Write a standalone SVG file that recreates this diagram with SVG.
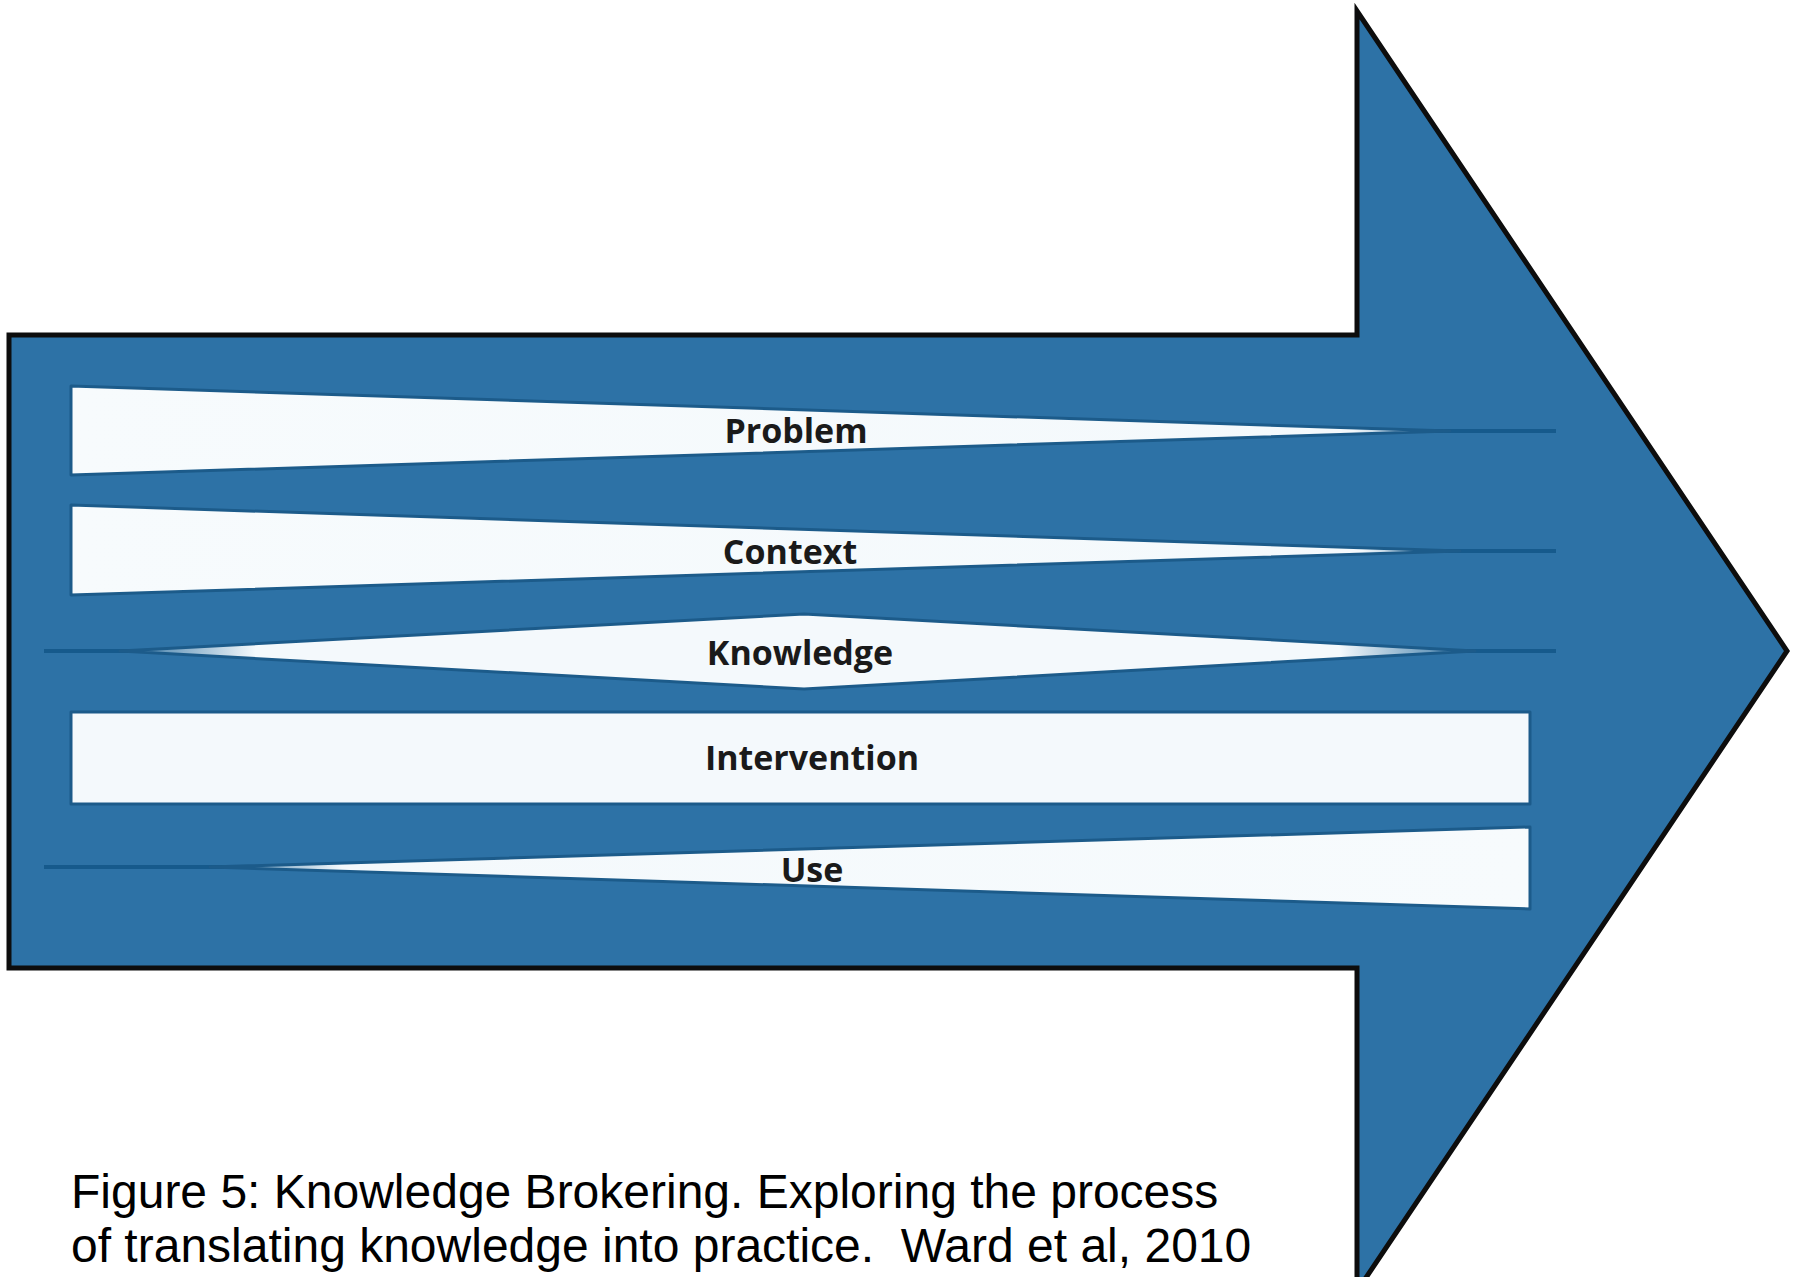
<svg xmlns="http://www.w3.org/2000/svg" width="1800" height="1277" viewBox="0 0 1800 1277">
<style>
.band{stroke:#1c5b8a;stroke-width:3;stroke-linejoin:round}
.thin{stroke:#165a8c;stroke-width:4;stroke-linecap:butt}
.lbl{font-family:"Open Sans","DejaVu Sans",sans-serif;font-weight:bold;font-size:34px;fill:#1a1a1a;text-anchor:middle}
.cap{font-family:"Liberation Sans",Arial,sans-serif;font-size:48px;fill:#000;white-space:pre}
</style>
<defs>
<linearGradient id="fadeR" gradientUnits="objectBoundingBox" x1="0" y1="0" x2="1" y2="0">
<stop offset="0" stop-color="#f7fbfd"/>
<stop offset="0.93" stop-color="#f4f9fc"/>
<stop offset="1" stop-color="#2a6e9f"/>
</linearGradient>
<linearGradient id="fadeBoth" gradientUnits="objectBoundingBox" x1="0" y1="0" x2="1" y2="0">
<stop offset="0" stop-color="#2a6e9f"/>
<stop offset="0.1" stop-color="#f4f9fc"/>
<stop offset="0.9" stop-color="#f4f9fc"/>
<stop offset="1" stop-color="#2a6e9f"/>
</linearGradient>
<linearGradient id="fadeL" gradientUnits="objectBoundingBox" x1="0" y1="0" x2="1" y2="0">
<stop offset="0" stop-color="#2a6e9f"/>
<stop offset="0.1" stop-color="#f4f9fc"/>
<stop offset="1" stop-color="#f7fbfd"/>
</linearGradient>
</defs>
<rect width="1800" height="1277" fill="#ffffff"/>
<g id="arrow">
<polygon points="9,335 1357,335 1357,11 1787,651 1357,1291 1357,968 9,968" fill="#2d72a6" stroke="#0d0d0d" stroke-width="5" stroke-linejoin="miter"/>
</g>
<g id="connectors">
<line class="thin" x1="1380" y1="431" x2="1556" y2="431"/>
<line class="thin" x1="1390" y1="551" x2="1556" y2="551"/>
<line class="thin" x1="44" y1="651" x2="180" y2="651"/>
<line class="thin" x1="1420" y1="651" x2="1556" y2="651"/>
<line class="thin" x1="44" y1="867" x2="280" y2="867"/>
</g>
<g id="problem">
<polygon class="band" points="71,386 1450,431 71,475" fill="url(#fadeR)"/>
<text class="lbl" x="796" y="443">Problem</text>
</g>
<g id="context">
<polygon class="band" points="71,505 1460,551 71,595" fill="url(#fadeR)"/>
<text class="lbl" x="790" y="564">Context</text>
</g>
<g id="knowledge">
<polygon class="band" points="120,651 804,614 1475,651 804,689" fill="url(#fadeBoth)"/>
<text class="lbl" x="800" y="665">Knowledge</text>
</g>
<g id="intervention">
<rect class="band" x="71" y="712" width="1459" height="92" fill="#f4f9fc"/>
<text class="lbl" x="812" y="770">Intervention</text>
</g>
<g id="use">
<polygon class="band" points="210,867 1530,827 1530,909" fill="url(#fadeL)"/>
<text class="lbl" x="812" y="882">Use</text>
</g>
<g id="caption">
<text class="cap" x="71" y="1208">Figure 5: Knowledge Brokering. Exploring the process</text>
<text class="cap" x="71" y="1262" xml:space="preserve">of translating knowledge into practice.  Ward et al, 2010</text>
</g>
</svg>
